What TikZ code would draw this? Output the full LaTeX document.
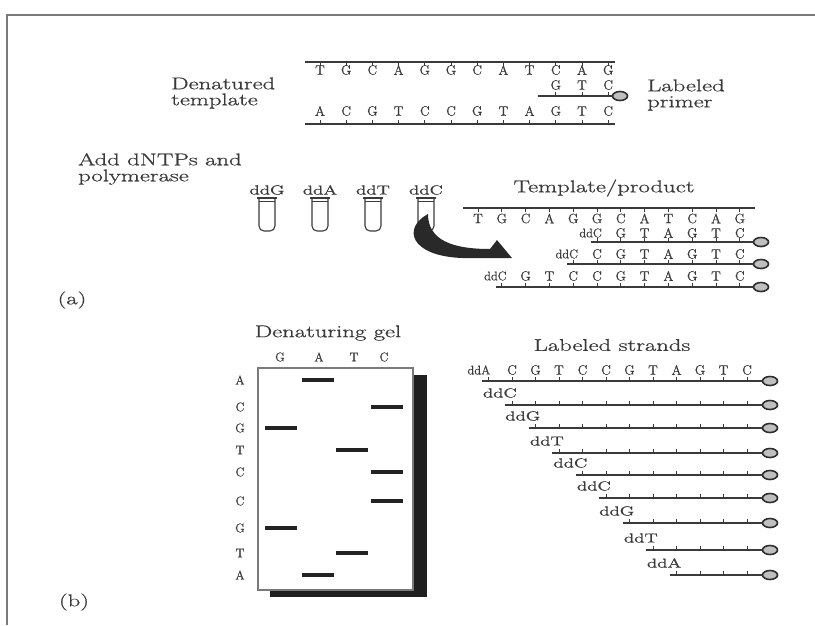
\documentclass[tikz,border=0pt]{standalone}
\usepackage{fontspec}
\usepackage{tikz}
\usetikzlibrary{positioning, shapes.geometric}
\setmainfont{Latin Modern Roman}[FakeBold=0.9]
\newfontfamily\widefont{Latin Modern Roman}[FakeStretch=1.45, FakeBold=0.9]
\definecolor{ink}{HTML}{3A3A3A}
\definecolor{framegray}{HTML}{7A7A7A}

\begin{document}
\begin{tikzpicture}[
    x=1pt, y=-1pt,
    caption/.style={inner sep=0pt, align=left, text=ink,
                    font=\widefont\fontsize{17}{16}\selectfont},
    base/.style={inner sep=0pt, text=ink, font=\fontsize{13.5}{13.5}\selectfont},
    dd/.style={inner sep=0pt, text=ink, font=\fontsize{12.5}{12.5}\selectfont},
    ddwide/.style={dd, font=\widefont\fontsize{13}{13}\selectfont},
    strand/.style={draw=ink, line width=1.2pt},
    tick/.style={draw=ink, line width=0.8pt},
    tagmark/.style={ellipse, draw=ink!80!black, fill=black!25, line width=1.6pt,
                    minimum width=15pt, minimum height=9pt, inner sep=0pt},
    tubeline/.style={draw=ink, line width=1.1pt},
    band/.style={draw=ink!60!black, line width=3.5pt}
]
  \useasboundingbox (0,0) rectangle (815,625);

  % outer frame
  \draw[framegray, line width=2pt] (7,625) -- (7,15) -- (815,15);

  % (a) denatured template with labeled primer
  \draw[strand] (305,62) -- (615,62);
  \foreach \b [count=\i from 0] in {T,G,C,A,G,G,C,A,T,C,A,G} {
    \node[base] (dt-\i) at (320+26.2*\i,70) {\b};
    \draw[tick] (320+26.2*\i,62) -- ++(0,4);
  }
  \foreach \b [count=\i from 9] in {G,T,C} {
    \node[base] (pr-\i) at (320+26.2*\i,85) {\b};
    \draw[tick] (320+26.2*\i,96) -- ++(0,-4);
  }
  \node[tagmark] (pr-end) at (620,96) {};
  \draw[strand] (538,96) -- (pr-end);
  \foreach \b [count=\i from 0] in {A,C,G,T,C,C,G,T,A,G,T,C} {
    \node[base] (db-\i) at (320+26.2*\i,111) {\b};
    \draw[tick] (320+26.2*\i,124) -- ++(0,-4);
  }
  \draw[strand] (305,124) -- (615,124);

  \node[caption, anchor=west] (templ) at (171,93) {Denatured\\template};
  \node[caption, anchor=west] (primer) at (647,95) {Labeled\\primer};
  \node[caption, anchor=west] (addnt) at (78,169) {Add dNTPs and\\polymerase};

  % tubes
  \foreach \n/\cx in {G/267, A/320, T/373, C/426} {
    \node[ddwide] (tube\n) at (\cx,190) {dd\n};
    \draw[tubeline] (\cx-10,198) -- (\cx+10,198);
    \draw[tubeline] (\cx-8,201.5) -- (\cx+8,201.5);
    \draw[tubeline, rounded corners=5pt] (\cx-8,198) -- (\cx-8,231) -- (\cx+8,231) -- (\cx+8,198);
  }

  % curved arrow from the ddC tube
  \fill[ink!70!black] (428,214) .. controls (402,228) and (410,256) .. (462,258)
        -- (512,258) -- (497,240) -- (490,249)
        .. controls (452,249) and (428,240) .. (428,214) -- cycle;

  % template / product
  \node[caption] (tplprod) at (604,188) {Template/product};
  \draw[strand] (463,208) -- (755,208);
  \foreach \b [count=\i from 0] in {T,G,C,A,G,G,C,A,T,C,A,G} {
    \node[base] (tp-\i) at (478+23.8*\i,218.5) {\b};
    \draw[tick] (478+23.8*\i,208) -- ++(0,4);
  }
  \foreach \s/\yl/\ys/\seq [count=\k] in {5/233/242/{G,T,A,G,T,C},
                                          4/254/264/{C,G,T,A,G,T,C},
                                          1/276/287/{G,T,C,C,G,T,A,G,T,C}} {
    \pgfmathtruncatemacro\first{\s+1}
    \node[dd, anchor=east] (pd\k-dd) at (478+23.8*\s+5,\yl) {ddC};
    \foreach \b [count=\i from \first] in \seq
      \node[base] (pd\k-\i) at (478+23.8*\i,\yl) {\b};
    \foreach \i in {\s,...,11}
      \draw[tick] (478+23.8*\i,\ys) -- ++(0,-4);
    \node[tagmark] (pd\k-end) at (761,\ys) {};
    \draw[strand] (478+23.8*\s-6,\ys) -- (pd\k-end);
  }

  \node[caption] (parta) at (72,300) {(a)};

  % (b) denaturing gel
  \node[caption] (geltitle) at (328,333) {Denaturing gel};
  \foreach \n/\cx in {G/280, A/319, T/354, C/384}
    \node[dd] (col\n) at (\cx,357) {\n};
  \fill[black!88] (270,375) rectangle (427,597);
  \draw[framegray, fill=white, line width=1.3pt] (258,368) rectangle (413,590);
  \foreach \n/\xb/\yb [count=\k] in {A/318/380, C/387/407, G/281/428, T/352/450,
                                     C/387/472, C/387/501, G/281/528, T/352/553, A/318/575} {
    \node[dd] (row\k) at (240,\yb) {\n};
    \draw[band] (\xb-16,\yb) -- (\xb+16,\yb);
  }
  \node[caption] (partb) at (74,602) {(b)};

  % labeled strands
  \node[caption] (strtitle) at (612,345) {Labeled strands};
  \node[dd, anchor=east] (ls0-dd) at (490.5,370) {ddA};
  \foreach \b [count=\i from 1] in {C,G,T,C,C,G,T,A,G,T,C}
    \node[base] (ls0-\i) at (488.5+23.5*\i,370) {\b};
  \foreach \n/\ys [count=\k from 0] in {A/381, C/405, G/428, T/453, C/475,
                                        C/498, G/523, T/550, A/575} {
    \ifnum\k>0
      \node[ddwide, anchor=east] (ls\k-dd) at (488.5+23.5*\k+5,\ys-12) {dd\n};
    \fi
    \foreach \i in {\k,...,11}
      \draw[tick] (488.5+23.5*\i,\ys) -- ++(0,-4);
    \node[tagmark] (ls\k-end) at (770,\ys) {};
    \draw[strand] (488.5+23.5*\k-7,\ys) -- (ls\k-end);
  }
\end{tikzpicture}
\end{document}
